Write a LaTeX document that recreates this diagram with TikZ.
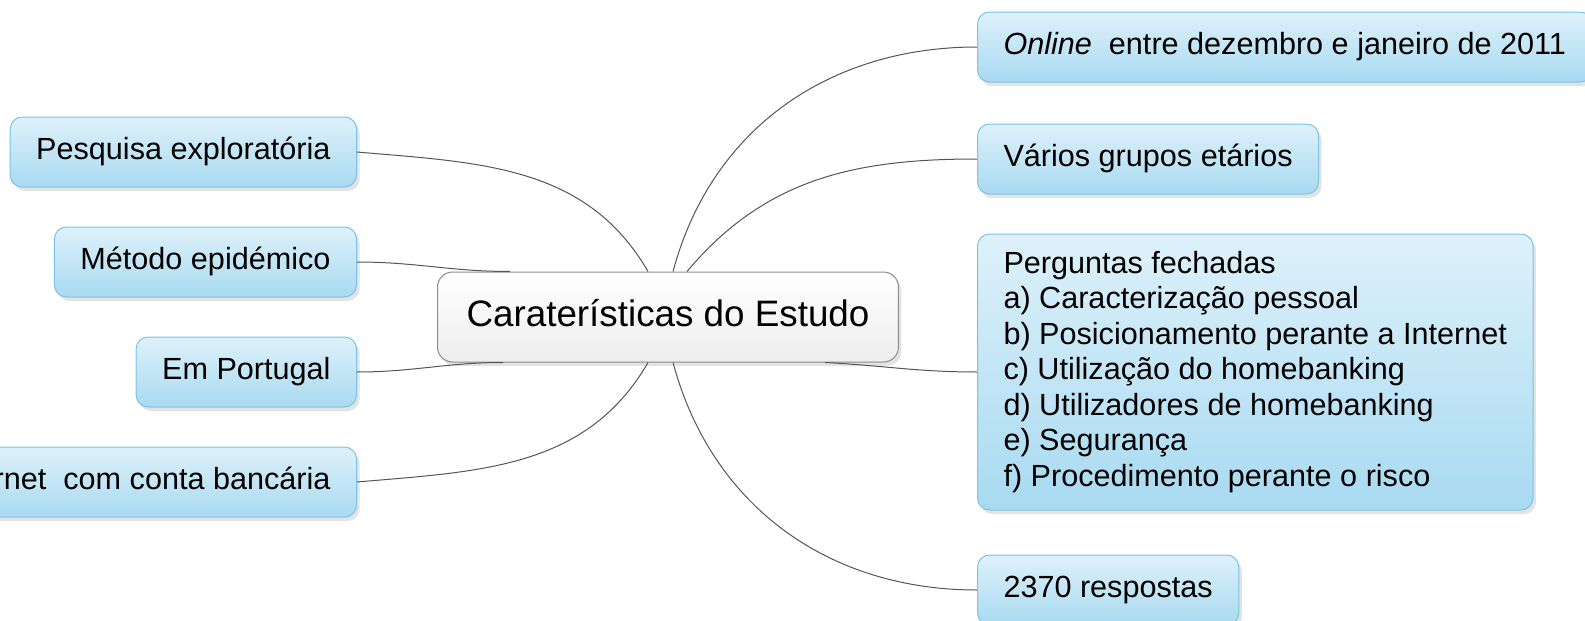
\documentclass[tikz,border=0pt]{standalone}
\usepackage{fontspec}
\setmainfont{Liberation Sans}
\usetikzlibrary{positioning,shadows}

\definecolor{leaftop}{RGB}{222,241,250}
\definecolor{leafbottom}{RGB}{168,218,241}
\definecolor{leafline}{RGB}{122,195,230}
\definecolor{hubline}{RGB}{140,140,140}
\definecolor{linkgray}{RGB}{85,85,85}

\begin{document}
\begin{tikzpicture}[x=1pt,y=1pt,
  box/.style={rounded corners=12pt,draw=leafline,line width=1pt,
    top color=leaftop,bottom color=leafbottom,inner xsep=26pt,
    drop shadow={shadow xshift=3pt,shadow yshift=-4pt,opacity=0.22},
    font=\fontsize{30.6}{35.5}\selectfont},
  leaf/.style={box,text height=21.5pt,text depth=6.5pt,inner ysep=21pt,minimum height=70pt},
  list/.style={box,align=left,inner ysep=14pt,minimum height=276pt},
  hub/.style={rounded corners=15pt,draw=hubline,line width=1pt,
    top color=white,bottom color=gray!14,inner xsep=29pt,
    text height=26.5pt,text depth=8pt,minimum height=90pt,
    drop shadow={shadow xshift=3pt,shadow yshift=-4pt,opacity=0.22},
    font=\fontsize{36.8}{44}\selectfont},
  link/.style={color=linkgray,line width=1pt}]
  \useasboundingbox (0,0) rectangle (1585,-621);
  \clip (0,0) rectangle (1585,-621);

  \node[hub] (0) at (668,-317) {Caraterísticas do Estudo};

  %left
  \node[leaf,anchor=east] (1) at (357,-152) {Pesquisa exploratória};
  \node[leaf,below=39pt of 1.south east,anchor=north east] (2) {Método epidémico};
  \node[leaf,below=39pt of 2.south east,anchor=north east] (3) {Em Portugal};
  \node[leaf,below=39pt of 3.south east,anchor=north east] (4) {Internet\ \ com conta bancária};

  %right
  \node[leaf,anchor=west] (5) at (977,-47) {\textit{Online}\ \ entre dezembro e janeiro de 2011};
  \node[leaf,below=41pt of 5.south west,anchor=north west] (6) {Vários grupos etários};
  \node[list,below=39pt of 6.south west,anchor=north west] (7) {Perguntas fechadas\\
    a) Caracterização pessoal\\
    b) Posicionamento perante a Internet\\
    c) Utilização do homebanking\\
    d) Utilizadores de homebanking\\
    e) Segurança\\
    f) Procedimento perante o risco};
  \node[leaf,below=44pt of 7.south west,anchor=north west] (8) {2370 respostas};

  \path[link]
    (1.east) edge[out=-5,in=120] ([xshift=-20pt]0.north)
    (2.east) edge[out=0,in=180] ([xshift=73pt]0.north west)
    (3.east) edge[out=0,in=180] ([xshift=66pt]0.south west)
    (4.east) edge[out=5,in=-120] ([xshift=-20pt]0.south)
    ([xshift=5pt]0.north) edge[out=75,in=180] (5.west)
    ([xshift=19pt]0.north) edge[out=50,in=180] (6.west)
    ([xshift=-74pt]0.south east) edge[out=-3,in=180] (7.west)
    ([xshift=5pt]0.south) edge[out=-75,in=180] (8.west);
\end{tikzpicture}
\end{document}
